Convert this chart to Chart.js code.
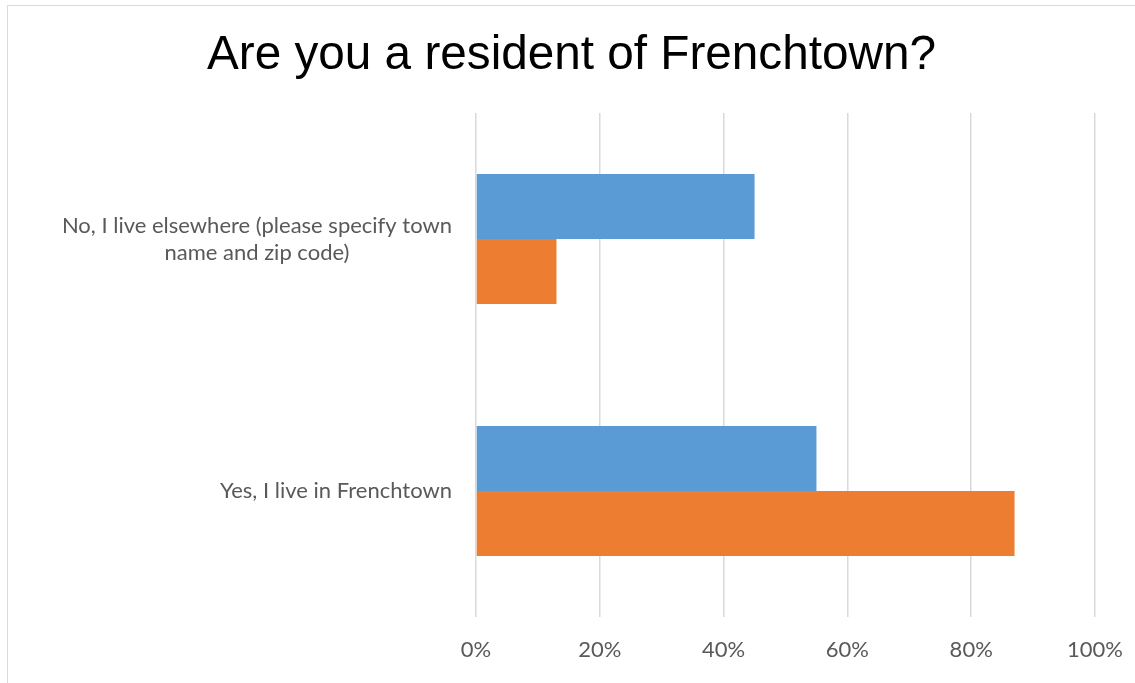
<!DOCTYPE html>
<html>
<head>
<meta charset="utf-8">
<script src="https://cdn.jsdelivr.net/npm/chart.js@4.4.0/dist/chart.umd.min.js"></script>
<style>
    html, body { margin: 0; padding: 0; background: #fff; overflow: hidden; }
    #wrap { position: relative; width: 1135px; height: 683px; }
    #frame {
        position: absolute; left: 7px; top: 5px; width: 1140px; height: 700px;
        border: 1.5px solid #d9d9d9; box-sizing: border-box; pointer-events: none;
    }
    canvas { position: absolute; left: 0; top: 0; }
</style>
</head>
<body>
<div id="wrap">
    <canvas id="resident-chart" width="1135" height="683"></canvas>
    <div id="frame"></div>
</div>
<script>
const chartTitle = 'Are you a resident of Frenchtown?';
const categories = [
    ['No, I live elsewhere (please specify town', 'name and zip code)'],
    ['Yes, I live in Frenchtown']
];
const seriesA = [45, 55];   // blue
const seriesB = [13, 87];   // orange
const xTicks = [0, 20, 40, 60, 80, 100];

const labelFont = '22px Lato, "Open Sans", sans-serif';
const textGray = '#595959';

// Title centred on the whole canvas rather than the padded box
const titleText = {
    id: 'titleText',
    afterDraw(chart) {
        const { ctx, width } = chart;
        ctx.save();
        ctx.font = '47.7px "Liberation Sans", Arial, sans-serif';
        ctx.fillStyle = '#000';
        ctx.textAlign = 'center';
        ctx.textBaseline = 'alphabetic';
        ctx.fillText(chartTitle, width / 2 + 4, 69);
        ctx.restore();
    }
};

// Category labels: block right-aligned to the axis, lines centred inside the block
const categoryLabels = {
    id: 'categoryLabels',
    afterDraw(chart) {
        const { ctx, chartArea, scales } = chart;
        const right = chartArea.left - 24;
        const lineH = 27;
        ctx.save();
        ctx.font = labelFont;
        ctx.fillStyle = textGray;
        ctx.textAlign = 'center';
        ctx.textBaseline = 'middle';
        chart.data.labels.forEach((lines, i) => {
            const y = scales.y.getPixelForValue(i);
            const maxW = Math.max(...lines.map(l => ctx.measureText(l).width));
            const cx = right - maxW / 2;
            const top = y - (lines.length - 1) * lineH / 2;
            lines.forEach((line, j) => ctx.fillText(line, cx, top + j * lineH));
        });
        ctx.restore();
    }
};

const ctx = document.getElementById('resident-chart').getContext('2d');
new Chart(ctx, {
    type: 'bar',
    data: {
        labels: categories,
        datasets: [
            { label: 'Series 1', data: seriesA, backgroundColor: '#5b9bd5' },
            { label: 'Series 2', data: seriesB, backgroundColor: '#ed7d31' }
        ]
    },
    options: {
        indexAxis: 'y',
        responsive: false,
        animation: false,
        categoryPercentage: 0.516,
        barPercentage: 1,
        layout: { padding: { left: 0, right: 40, top: 113, bottom: 0 } },
        plugins: {
            legend: { display: false },
            tooltip: { enabled: false },
            title: { display: false }
        },
        scales: {
            x: {
                min: 0,
                max: 100,
                afterBuildTicks: scale => { scale.ticks = xTicks.map(v => ({ value: v })); },
                afterFit: scale => {
                    scale.height = 66;
                    scale.paddingLeft = 0;
                    scale.paddingRight = 0;
                },
                ticks: {
                    color: textGray,
                    font: { family: 'Lato, "Open Sans", sans-serif', size: 22 },
                    padding: 20,
                    callback: v => v + '%'
                },
                grid: { color: '#d9d9d9', lineWidth: 1.5, drawTicks: false },
                border: { display: false }
            },
            y: {
                afterFit: scale => { scale.width = 476; },
                ticks: { display: false },
                grid: { display: false },
                border: { display: false }
            }
        }
    },
    plugins: [titleText, categoryLabels]
});
</script>
</body>
</html>
